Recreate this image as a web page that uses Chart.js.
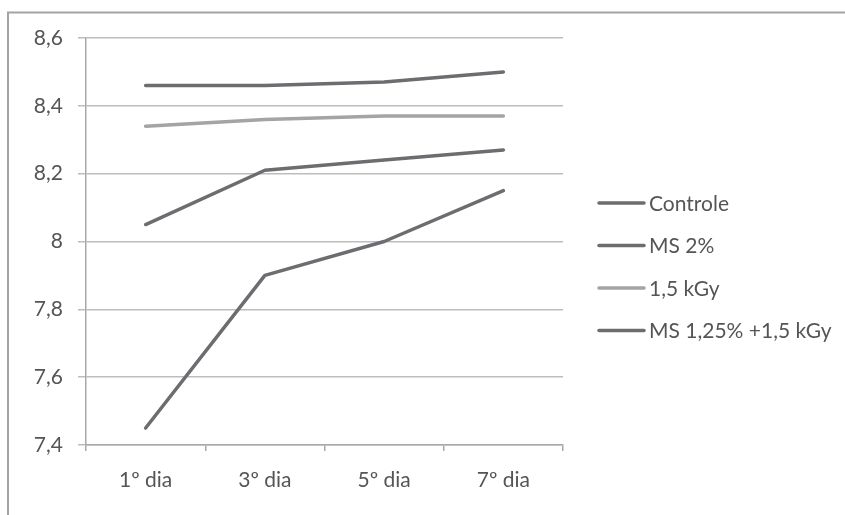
<!DOCTYPE html>
<html>
<head>
<meta charset="utf-8">
<script src="https://cdn.jsdelivr.net/npm/chart.js@4.4.1/dist/chart.umd.min.js"></script>
<style>
  html, body { margin: 0; padding: 0; background: #ffffff; }
  #wrap { width: 845px; height: 515px; }
</style>
</head>
<body>
<div id="wrap"><canvas id="chart" width="845" height="515"></canvas></div>
<script>
// Days of storage
const categories = ['1º dia', '3º dia', '5º dia', '7º dia'];

// pH per treatment
const controle   = [7.45, 7.90, 8.00, 8.15];
const ms2        = [8.05, 8.21, 8.24, 8.27];
const kgy15      = [8.34, 8.36, 8.37, 8.37];
const ms125kgy15 = [8.46, 8.46, 8.47, 8.50];

const seriesNames = ['Controle', 'MS 2%', '1,5 kGy', 'MS 1,25% +1,5 kGy'];

// Value axis ticks and their labels
const yTicks = [7.4, 7.6, 7.8, 8.0, 8.2, 8.4, 8.6];
const yTickLabels = ['7,4', '7,6', '7,8', '8', '8,2', '8,4', '8,6'];

const DARK = '#6d6d71';
const LIGHT = '#a4a4a7';
const TEXT = '#555555';
const FONT = 'Lato, "DejaVu Sans", sans-serif';

// Outer frame of the chart box (left and top edges)
const framePlugin = {
  id: 'frame',
  beforeDraw(chart) {
    const ctx = chart.ctx;
    ctx.save();
    ctx.strokeStyle = '#a3a3a3';
    ctx.lineWidth = 2;
    ctx.beginPath();
    ctx.moveTo(8, 515);
    ctx.lineTo(8, 12.5);
    ctx.lineTo(845, 12.5);
    ctx.stroke();
    ctx.restore();
  }
};

// Legend drawn to the right of the plot, one line sample per series
const sideLegend = {
  id: 'sideLegend',
  afterDraw(chart) {
    const ctx = chart.ctx;
    const x0 = chart.chartArea.right + 35;
    const yStart = 203;
    const step = 42.5;
    ctx.save();
    ctx.font = '21px ' + FONT;
    ctx.textBaseline = 'middle';
    ctx.textAlign = 'left';
    chart.data.datasets.forEach((ds, i) => {
      const y = yStart + i * step;
      ctx.strokeStyle = ds.borderColor;
      ctx.lineWidth = 3.5;
      ctx.lineCap = 'round';
      ctx.beginPath();
      ctx.moveTo(x0 + 1, y);
      ctx.lineTo(x0 + 46, y);
      ctx.stroke();
      ctx.fillStyle = TEXT;
      ctx.fillText(ds.label, x0 + 51, y + 1);
    });
    ctx.restore();
  }
};

const seriesValues = [controle, ms2, kgy15, ms125kgy15];
const seriesColors = [DARK, DARK, LIGHT, DARK];

new Chart(document.getElementById('chart'), {
  type: 'line',
  data: {
    labels: categories,
    datasets: seriesValues.map((vals, i) => ({
      label: seriesNames[i],
      data: vals,
      borderColor: seriesColors[i],
      backgroundColor: seriesColors[i],
      borderWidth: 3.5,
      borderCapStyle: 'round',
      borderJoinStyle: 'round',
      pointRadius: 0,
      tension: 0,
      fill: false
    }))
  },
  options: {
    responsive: false,
    animation: false,
    layout: { padding: { left: 10, top: 38, right: 282, bottom: 0 } },
    plugins: {
      legend: { display: false },
      tooltip: { enabled: false }
    },
    scales: {
      x: {
        type: 'category',
        offset: true,
        grid: {
          offset: true,
          drawOnChartArea: false,
          drawTicks: true,
          tickLength: 6,
          color: '#a9a9a9',
          lineWidth: 1.5
        },
        border: { color: '#a9a9a9', width: 1.5 },
        ticks: {
          color: TEXT,
          font: { family: FONT, size: 21 },
          padding: 17,
          maxRotation: 0
        },
        afterFit(scale) { scale.height = 70; }
      },
      y: {
        min: 7.4,
        max: 8.6,
        afterBuildTicks(scale) {
          scale.ticks = yTicks.map(v => ({ value: v }));
        },
        ticks: {
          color: TEXT,
          font: { family: FONT, size: 21 },
          padding: 15,
          callback(value) {
            const idx = yTicks.findIndex(t => Math.abs(t - value) < 1e-6);
            return idx >= 0 ? yTickLabels[idx] : '';
          }
        },
        grid: {
          color: '#bdbdbd',
          lineWidth: 1.5,
          tickLength: 8,
          drawTicks: true
        },
        border: { color: '#a9a9a9', width: 1.5 },
        afterFit(scale) { scale.width = 76; }
      }
    }
  },
  plugins: [framePlugin, sideLegend]
});
</script>
</body>
</html>
